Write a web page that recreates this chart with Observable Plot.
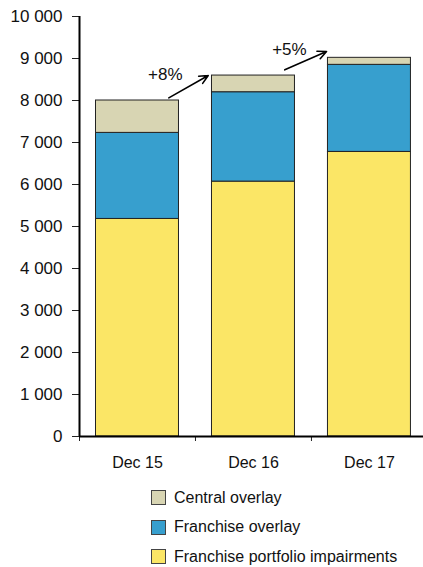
<!DOCTYPE html>
<html>
<head>
<meta charset="utf-8">
<script src="https://cdn.jsdelivr.net/npm/d3@7"></script>
<script src="https://cdn.jsdelivr.net/npm/@observablehq/plot@0.6"></script>
<style>
  html, body { margin: 0; padding: 0; background: #fff; }
  body { width: 423px; height: 567px; position: relative; font-family: "Liberation Sans", Arial, sans-serif; }
  #chart svg { display: block; }
  #legend { position: absolute; left: 151px; top: 483px; font-size: 16px; color: #111; }
  .row { display: flex; align-items: center; height: 29.5px; }
  .sw { width: 15px; height: 15px; box-sizing: border-box; border: 1px solid #444; margin-right: 8px; }
</style>
</head>
<body>
<div id="chart"></div>
<div id="legend"></div>
<script>
// ---- data ----
const categories = ["Dec 15", "Dec 16", "Dec 17"];
const seriesNames = ["Franchise portfolio impairments", "Franchise overlay", "Central overlay"];
const impairments = [5180, 6069, 6776];
const franchiseOverlay = [2049, 2128, 2073];
const centralOverlay = [771, 397, 167];
const yTicks = [0, 1000, 2000, 3000, 4000, 5000, 6000, 7000, 8000, 9000, 10000];
const legendOrder = ["Central overlay", "Franchise overlay", "Franchise portfolio impairments"];
// growth annotations (data coordinates: category index, value)
const growthLabels = ["+8%", "+5%"];
const growthLabelX = [0.24, 1.31];
const growthLabelY = [8623, 9214];
const arrowX1 = [0.27, 1.27];
const arrowY1 = [8063, 8730];
const arrowX2 = [0.61, 1.63];
const arrowY2 = [8594, 9166];

const colors = ["#FBE666", "#379FCE", "#D8D5B3"];

// ---- build stacked table ----
const seriesValues = [impairments, franchiseOverlay, centralOverlay];
const rows = [];
categories.forEach((c, i) => {
  let base = 0;
  seriesValues.forEach((vals, s) => {
    rows.push({i, category: c, series: seriesNames[s], y1: base, y2: base + vals[i]});
    base += vals[i];
  });
});
const arrows = growthLabels.map((t, k) => ({x1: arrowX1[k], y1: arrowY1[k], x2: arrowX2[k], y2: arrowY2[k]}));
const labels = growthLabels.map((t, k) => ({text: t, x: growthLabelX[k], y: growthLabelY[k]}));

const locale = d3.formatLocale({decimal: ".", thousands: " ", grouping: [3], currency: ["", ""]});
const fmt = locale.format(",");

const plot = Plot.plot({
  width: 423,
  height: 475,
  marginLeft: 79,
  marginRight: 0,
  marginTop: 16,
  marginBottom: 39,
  style: {fontFamily: "'Liberation Sans', Arial, sans-serif", color: "#111", background: "#fff"},
  x: {type: "linear", domain: [-0.5, 2.466], label: null},
  y: {domain: [0, 10000], label: null},
  color: {domain: seriesNames, range: colors},
  marks: [
    Plot.rectY(rows, {
      x1: d => d.i - 0.5, x2: d => d.i + 0.5, y1: "y1", y2: "y2",
      fill: "series", stroke: "#222", strokeWidth: 1,
      insetLeft: 16.5, insetRight: 16.5
    }),
    Plot.axisY(yTicks, {tickSize: 7, tickPadding: 10, tickFormat: fmt, fontSize: 17, stroke: "#222", label: null}),
    Plot.axisX([-0.5, 0.5, 1.5], {tickSize: 5, tickFormat: () => "", stroke: "#222", label: null}),
    Plot.axisX([0, 1, 2], {tickSize: 0, tickPadding: 20, tickFormat: i => categories[i], fontSize: 16, label: null}),
    Plot.ruleX([-0.5], {y1: 0, y2: 10000, stroke: "#000", strokeWidth: 2}),
    Plot.ruleY([0], {stroke: "#000", strokeWidth: 2}),
    Plot.arrow(arrows, {x1: "x1", y1: "y1", x2: "x2", y2: "y2", stroke: "#000", strokeWidth: 1.6, headLength: 9, headAngle: 50}),
    Plot.text(labels, {x: "x", y: "y", text: "text", fontSize: 17, fill: "#111", textAnchor: "middle", lineAnchor: "middle"})
  ]
});
document.getElementById("chart").appendChild(plot);

// ---- legend ----
const legend = document.getElementById("legend");
legendOrder.forEach(name => {
  const row = document.createElement("div");
  row.className = "row";
  const sw = document.createElement("span");
  sw.className = "sw";
  sw.style.background = colors[seriesNames.indexOf(name)];
  const tx = document.createElement("span");
  tx.textContent = name;
  row.appendChild(sw);
  row.appendChild(tx);
  legend.appendChild(row);
});
</script>
</body>
</html>
